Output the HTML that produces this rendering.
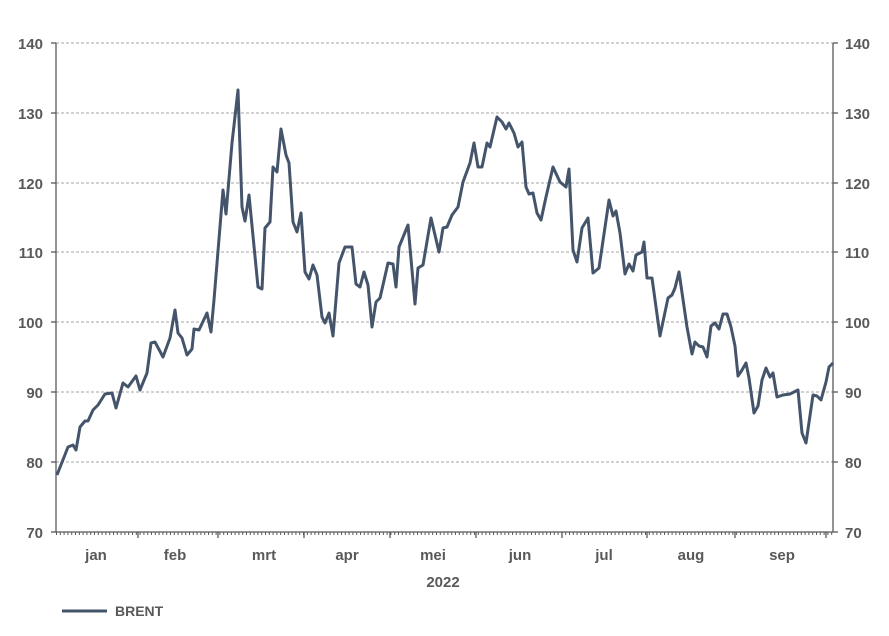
<!DOCTYPE html>
<html><head><meta charset="utf-8"><style>
html,body{margin:0;padding:0;background:#fff;}
svg text{font-family:"Liberation Sans",sans-serif;font-size:15px;fill:#595959;font-weight:bold;}
</style></head><body>
<svg width="889" height="631" viewBox="0 0 889 631" xmlns="http://www.w3.org/2000/svg">
<g stroke="#a6a6a6" stroke-width="1" stroke-dasharray="3,2">
<line x1="56" y1="43" x2="833" y2="43"/>
<line x1="56" y1="113" x2="833" y2="113"/>
<line x1="56" y1="183" x2="833" y2="183"/>
<line x1="56" y1="252" x2="833" y2="252"/>
<line x1="56" y1="322" x2="833" y2="322"/>
<line x1="56" y1="392" x2="833" y2="392"/>
<line x1="56" y1="462" x2="833" y2="462"/>
</g>
<line x1="56" y1="533.5" x2="833" y2="533.5" stroke="#595959" stroke-width="3" stroke-dasharray="1,2.8"/>
<g stroke="#595959" stroke-width="1.3">
<line x1="56" y1="43" x2="56" y2="532"/>
<line x1="833" y1="43" x2="833" y2="532"/>
<line x1="56" y1="532" x2="833" y2="532"/>
<line x1="51" y1="43" x2="56" y2="43"/><line x1="51" y1="113" x2="56" y2="113"/><line x1="51" y1="183" x2="56" y2="183"/><line x1="51" y1="252" x2="56" y2="252"/><line x1="51" y1="322" x2="56" y2="322"/><line x1="51" y1="392" x2="56" y2="392"/><line x1="51" y1="462" x2="56" y2="462"/><line x1="51" y1="532" x2="56" y2="532"/>
<line x1="833" y1="43" x2="838" y2="43"/><line x1="833" y1="113" x2="838" y2="113"/><line x1="833" y1="183" x2="838" y2="183"/><line x1="833" y1="252" x2="838" y2="252"/><line x1="833" y1="322" x2="838" y2="322"/><line x1="833" y1="392" x2="838" y2="392"/><line x1="833" y1="462" x2="838" y2="462"/><line x1="833" y1="532" x2="838" y2="532"/>
<line x1="138" y1="532" x2="138" y2="538"/><line x1="218" y1="532" x2="218" y2="538"/><line x1="304" y1="532" x2="304" y2="538"/><line x1="390" y1="532" x2="390" y2="538"/><line x1="476" y1="532" x2="476" y2="538"/><line x1="562" y1="532" x2="562" y2="538"/><line x1="647" y1="532" x2="647" y2="538"/><line x1="735" y1="532" x2="735" y2="538"/><line x1="826" y1="532" x2="826" y2="538"/>
</g>
<g text-anchor="end">
<text x="43" y="49">140</text><text x="43" y="119">130</text><text x="43" y="189">120</text><text x="43" y="258">110</text><text x="43" y="328">100</text><text x="43" y="398">90</text><text x="43" y="468">80</text><text x="43" y="538">70</text>
</g>
<g>
<text x="845" y="49">140</text><text x="845" y="119">130</text><text x="845" y="189">120</text><text x="845" y="258">110</text><text x="845" y="328">100</text><text x="845" y="398">90</text><text x="845" y="468">80</text><text x="845" y="538">70</text>
</g>
<g text-anchor="middle">
<text x="96" y="560">jan</text><text x="175" y="560">feb</text><text x="264" y="560">mrt</text><text x="347" y="560">apr</text><text x="433" y="560">mei</text><text x="520" y="560">jun</text><text x="604" y="560">jul</text><text x="691" y="560">aug</text><text x="782" y="560">sep</text>
<text x="443" y="587">2022</text>
</g>
<line x1="62" y1="611" x2="107" y2="611" stroke="#44546a" stroke-width="3"/>
<text x="115" y="616" style="font-size:14px">BRENT</text>
<polyline fill="none" stroke="#44546a" stroke-width="3" stroke-linejoin="round" points="57,475 68,447 73,445 76,450 80,427 85,421 88,421 93,410 98,405 105,394 112,393 116,408 123,383 128,387 136,376 140,390 147,373 151,343 155,342 163,357 170,338 175,310 178,333 182,338 187,355 192,349 194,329 199,330 207,313 211,332 214,300 223,190 226,214 232,143 238,90 242,207 245,221 249,195 258,287 262,289 265,228 270,222 273,167 277,172 281,129 286,155 289,163 293,222 297,232 301,213 305,272 309,279 313,265 317,275 322,317 325,323 329,313 333,336 339,263 345,247 352,247 356,284 360,287 364,272 368,285 372,327 376,302 380,298 388,263 393,264 396,287 399,247 408,225 415,304 418,268 423,265 431,218 439,252 443,228 447,227 452,215 458,207 463,182 470,163 474,143 478,167 482,167 487,143 490,147 497,117 502,122 506,129 509,123 514,133 518,147 522,142 526,187 529,194 533,193 537,213 541,220 546,197 553,167 560,182 566,187 569,169 573,250 577,262 582,228 588,218 593,273 599,268 609,200 613,216 616,211 620,233 625,274 629,264 633,271 636,255 642,252 644,242 647,278 652,278 660,336 668,298 672,295 675,288 679,272 687,327 692,354 695,342 699,346 703,347 707,357 711,326 715,323 719,329 723,314 727,314 731,327 735,346 738,376 742,370 746,363 749,378 754,413 758,406 762,380 766,368 770,377 773,373 777,397 783,395 790,394 798,390 802,433 806,443 813,395 817,396 821,400 826,382 829,367 833,363"/>
</svg>
</body></html>
